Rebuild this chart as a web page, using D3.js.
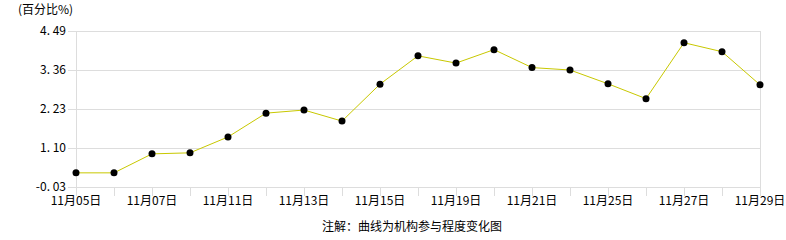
<!DOCTYPE html>
<html>
<head>
<meta charset="utf-8">
<script src="https://cdn.jsdelivr.net/npm/d3@7"></script>
<style>
  body { margin: 0; background: #fff; }
  svg text { font-family: "Noto Sans CJK SC", "DejaVu Sans", sans-serif; font-size: 12px; fill: #000; }
</style>
</head>
<body>
<svg id="chart" width="786" height="240"></svg>
<script>
// trading days shown on the x axis
const dates = ['11月05日','11月06日','11月07日','11月08日','11月11日','11月12日','11月13日','11月14日','11月15日',
  '11月18日','11月19日','11月20日','11月21日','11月22日','11月25日','11月26日','11月27日','11月28日','11月29日'];
const values = [0.38, 0.38, 0.93, 0.96, 1.42, 2.11, 2.20, 1.88, 2.95, 3.77, 3.56, 3.95, 3.43, 3.36, 2.96, 2.53, 4.15, 3.89, 2.93];
const yTicks = [-0.03, 1.10, 2.23, 3.36, 4.49];
const yTickLabels = ['-0. 03', '1. 10', '2. 23', '3. 36', '4. 49'];

const margin = { left: 76, right: 26, top: 31, bottom: 53 };
const W = 786, H = 240;

const svg = d3.select('#chart');

const x = d3.scalePoint()
  .domain(dates)
  .range([margin.left, W - margin.right]);

const y = d3.scaleLinear()
  .domain([yTicks[0], yTicks[yTicks.length - 1]])
  .range([H - margin.bottom, margin.top]);

const grid = '#dddddd';

// horizontal gridlines
svg.append('g')
  .selectAll('line')
  .data(yTicks)
  .join('line')
  .attr('x1', margin.left - 8)
  .attr('x2', W - margin.right)
  .attr('y1', d => Math.round(y(d)) + 0.5)
  .attr('y2', d => Math.round(y(d)) + 0.5)
  .attr('stroke', grid);

// left + right border
svg.append('line')
  .attr('x1', margin.left + 0.5).attr('x2', margin.left + 0.5)
  .attr('y1', margin.top).attr('y2', H - margin.bottom + 9)
  .attr('stroke', grid);
svg.append('line')
  .attr('x1', W - margin.right + 0.5).attr('x2', W - margin.right + 0.5)
  .attr('y1', margin.top).attr('y2', H - margin.bottom + 9)
  .attr('stroke', grid);

// x ticks
svg.append('g')
  .selectAll('line')
  .data(dates)
  .join('line')
  .attr('x1', d => Math.round(x(d)) + 0.5)
  .attr('x2', d => Math.round(x(d)) + 0.5)
  .attr('y1', H - margin.bottom)
  .attr('y2', H - margin.bottom + 9)
  .attr('stroke', grid);

// y labels
svg.append('g')
  .selectAll('text')
  .data(yTicks)
  .join('text')
  .attr('x', margin.left - 10)
  .attr('y', d => y(d))
  .attr('dy', '0.35em')
  .attr('text-anchor', 'end')
  .text((d, i) => yTickLabels[i]);

// x labels, every other day
svg.append('g')
  .selectAll('text')
  .data(dates.filter((d, i) => i % 2 === 0))
  .join('text')
  .attr('x', d => x(d))
  .attr('y', H - margin.bottom + 14)
  .attr('dy', '0.35em')
  .attr('text-anchor', 'middle')
  .text(d => d);

// line
const line = d3.line()
  .x((d, i) => x(dates[i]))
  .y(d => y(d));

svg.append('path')
  .datum(values)
  .attr('d', line)
  .attr('fill', 'none')
  .attr('stroke', '#c8c800')
  .attr('stroke-width', 1);

svg.append('g')
  .selectAll('circle')
  .data(values)
  .join('circle')
  .attr('cx', (d, i) => x(dates[i]))
  .attr('cy', d => y(d))
  .attr('r', 3.5)
  .attr('fill', '#000');

// unit label
svg.append('text')
  .attr('x', 18)
  .attr('y', 10)
  .attr('dy', '0.35em')
  .text('(百分比%)');

// footnote
svg.append('text')
  .attr('x', 412)
  .attr('y', 227)
  .attr('dy', '0.35em')
  .attr('text-anchor', 'middle')
  .text('注解：曲线为机构参与程度变化图');
</script>
</body>
</html>
